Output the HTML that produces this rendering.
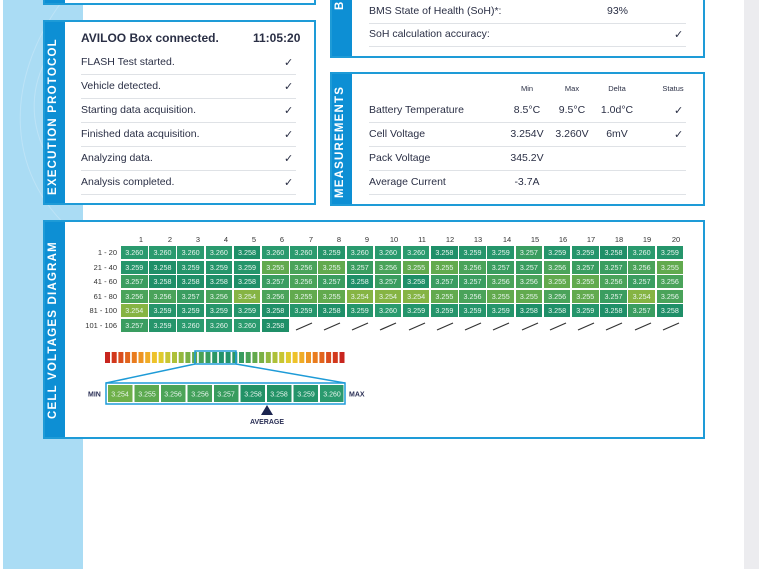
<!DOCTYPE html>
<html><head><meta charset="utf-8"><style>
*{margin:0;padding:0;box-sizing:border-box}
body{width:759px;height:569px;overflow:hidden;background:#fff;font-family:"Liberation Sans",sans-serif;color:#2a2f45;position:relative}
.abs{position:absolute}
.panel{position:absolute;border:2px solid #1e9bd7;background:#fff}
.strip{position:absolute;left:0;top:0;bottom:0;width:20px;background:#0d8fd4}
.vl{position:absolute;color:#fff;font-weight:bold;font-size:11.5px;letter-spacing:1.2px;white-space:nowrap;transform:rotate(-90deg);transform-origin:left top}
.row{position:absolute;font-size:10.5px;border-bottom:1.5px solid #dfe2e6;height:22px;line-height:18px}
.ck{position:absolute;font-size:11px}
.v{position:absolute;width:60px;text-align:center;font-size:10.5px}
.g{position:absolute;left:82px;top:246px}
.r{display:flex;height:14.6px;align-items:flex-start}
.r b{font-weight:normal;width:39px;white-space:nowrap;text-align:right;padding-right:4px;font-size:7.5px;line-height:13px;color:#333}
.r i{font-style:normal;width:26.6px;height:13px;margin-right:1.6px;font-size:7.2px;line-height:13px;text-align:center;color:#e8f5ee}
.a{background:#2a9a6e}.b{background:#25956b}.c{background:#1f8f68}.d{background:#3a9d60}.e{background:#4aa35a}.f{background:#62aa4e}.h{background:#86b443}
.hd{position:absolute;top:235px;font-size:7.5px;color:#333;width:20px;text-align:center}
</style></head><body>
<div class="abs" style="left:3px;top:0;width:80px;height:569px;background:#aadcf4"></div>
<svg class="abs" style="left:3px;top:0" width="80" height="260"><g fill="none" stroke="#bde3f6" stroke-width="1"><path d="M80 20 C20 60 10 140 80 200"/><path d="M80 40 C35 80 30 130 80 180"/><path d="M60 0 C0 80 0 180 80 240"/></g></svg>
<div class="abs" style="left:744px;top:0;width:15px;height:569px;background:#ececef"></div>

<div class="panel" style="left:43px;top:-20px;width:273px;height:25px"><div class="strip"></div></div>

<div class="panel" style="left:43px;top:20px;width:273px;height:185px"><div class="strip"></div>
<div class="vl" style="left:2px;top:173px">EXECUTION PROTOCOL</div></div>
<div class="abs" style="left:81px;top:31px;font-size:12px;font-weight:bold">AVILOO Box connected.</div>
<div class="abs" style="left:253px;top:31px;font-size:12px;font-weight:bold">11:05:20</div>
<div class="row" style="left:81px;top:53px;width:215px">FLASH Test started.</div>
<div class="row" style="left:81px;top:77px;width:215px">Vehicle detected.</div>
<div class="row" style="left:81px;top:101px;width:215px">Starting data acquisition.</div>
<div class="row" style="left:81px;top:125px;width:215px">Finished data acquisition.</div>
<div class="row" style="left:81px;top:149px;width:215px">Analyzing data.</div>
<div class="row" style="left:81px;top:173px;width:215px">Analysis completed.</div>
<div class="ck" style="left:284px;top:56px">✓</div><div class="ck" style="left:284px;top:80px">✓</div><div class="ck" style="left:284px;top:104px">✓</div><div class="ck" style="left:284px;top:128px">✓</div><div class="ck" style="left:284px;top:152px">✓</div><div class="ck" style="left:284px;top:176px">✓</div>

<div class="panel" style="left:330px;top:-20px;width:375px;height:78px"><div class="strip"></div>
<div class="vl" style="left:2px;top:28px">B</div></div>
<div class="row" style="left:369px;top:2px;width:317px">BMS State of Health (SoH)*:</div>
<div class="abs" style="left:607px;top:5px;font-size:10.5px">93%</div>
<div class="row" style="left:369px;top:25px;width:317px">SoH calculation accuracy:</div>
<div class="ck" style="left:674px;top:28px">✓</div>

<div class="panel" style="left:330px;top:72px;width:375px;height:134px"><div class="strip"></div>
<div class="vl" style="left:2px;top:124px">MEASUREMENTS</div></div>
<div class="abs" style="left:507px;top:84px;width:40px;text-align:center;font-size:7.5px">Min</div>
<div class="abs" style="left:552px;top:84px;width:40px;text-align:center;font-size:7.5px">Max</div>
<div class="abs" style="left:597px;top:84px;width:40px;text-align:center;font-size:7.5px">Delta</div>
<div class="abs" style="left:653px;top:84px;width:40px;text-align:center;font-size:7.5px">Status</div>
<div class="row" style="left:369px;top:101px;width:317px">Battery Temperature</div>
<div class="row" style="left:369px;top:125px;width:317px">Cell Voltage</div>
<div class="row" style="left:369px;top:149px;width:317px">Pack Voltage</div>
<div class="row" style="left:369px;top:173px;width:317px">Average Current</div>
<div class="v" style="left:497px;top:104px">8.5°C</div>
<div class="v" style="left:497px;top:128px">3.254V</div>
<div class="v" style="left:497px;top:152px">345.2V</div>
<div class="v" style="left:497px;top:176px">-3.7A</div>
<div class="v" style="left:542px;top:104px">9.5°C</div>
<div class="v" style="left:542px;top:128px">3.260V</div>
<div class="v" style="left:587px;top:104px">1.0d°C</div>
<div class="v" style="left:587px;top:128px">6mV</div>
<div class="ck" style="left:674px;top:104px">✓</div><div class="ck" style="left:674px;top:128px">✓</div>

<div class="panel" style="left:43px;top:220px;width:662px;height:219px"><div class="strip"></div>
<div class="vl" style="left:2px;top:197px">CELL VOLTAGES DIAGRAM</div></div>
<div class="hd" style="left:131px">1</div><div class="hd" style="left:160px">2</div><div class="hd" style="left:188px">3</div><div class="hd" style="left:216px">4</div><div class="hd" style="left:244px">5</div><div class="hd" style="left:272px">6</div><div class="hd" style="left:301px">7</div><div class="hd" style="left:329px">8</div><div class="hd" style="left:357px">9</div><div class="hd" style="left:384px">10</div><div class="hd" style="left:412px">11</div><div class="hd" style="left:440px">12</div><div class="hd" style="left:468px">13</div><div class="hd" style="left:497px">14</div><div class="hd" style="left:525px">15</div><div class="hd" style="left:553px">16</div><div class="hd" style="left:581px">17</div><div class="hd" style="left:609px">18</div><div class="hd" style="left:637px">19</div><div class="hd" style="left:666px">20</div>
<div class="g">
<div class="r"><b>1 - 20</b><i class="a">3.260</i><i class="a">3.260</i><i class="a">3.260</i><i class="a">3.260</i><i class="c">3.258</i><i class="a">3.260</i><i class="a">3.260</i><i class="b">3.259</i><i class="a">3.260</i><i class="a">3.260</i><i class="a">3.260</i><i class="c">3.258</i><i class="b">3.259</i><i class="b">3.259</i><i class="d">3.257</i><i class="b">3.259</i><i class="b">3.259</i><i class="c">3.258</i><i class="a">3.260</i><i class="b">3.259</i></div>
<div class="r"><b>21 - 40</b><i class="b">3.259</i><i class="c">3.258</i><i class="b">3.259</i><i class="b">3.259</i><i class="b">3.259</i><i class="f">3.255</i><i class="e">3.256</i><i class="f">3.255</i><i class="d">3.257</i><i class="e">3.256</i><i class="f">3.255</i><i class="f">3.255</i><i class="e">3.256</i><i class="d">3.257</i><i class="d">3.257</i><i class="e">3.256</i><i class="d">3.257</i><i class="d">3.257</i><i class="e">3.256</i><i class="f">3.255</i></div>
<div class="r"><b>41 - 60</b><i class="d">3.257</i><i class="c">3.258</i><i class="c">3.258</i><i class="c">3.258</i><i class="c">3.258</i><i class="d">3.257</i><i class="e">3.256</i><i class="d">3.257</i><i class="c">3.258</i><i class="d">3.257</i><i class="c">3.258</i><i class="d">3.257</i><i class="d">3.257</i><i class="e">3.256</i><i class="e">3.256</i><i class="f">3.255</i><i class="f">3.255</i><i class="e">3.256</i><i class="d">3.257</i><i class="e">3.256</i></div>
<div class="r"><b>61 - 80</b><i class="e">3.256</i><i class="e">3.256</i><i class="d">3.257</i><i class="e">3.256</i><i class="h">3.254</i><i class="e">3.256</i><i class="f">3.255</i><i class="f">3.255</i><i class="h">3.254</i><i class="h">3.254</i><i class="h">3.254</i><i class="f">3.255</i><i class="e">3.256</i><i class="f">3.255</i><i class="f">3.255</i><i class="e">3.256</i><i class="f">3.255</i><i class="d">3.257</i><i class="h">3.254</i><i class="e">3.256</i></div>
<div class="r"><b>81 - 100</b><i class="h">3.254</i><i class="b">3.259</i><i class="b">3.259</i><i class="b">3.259</i><i class="b">3.259</i><i class="c">3.258</i><i class="b">3.259</i><i class="c">3.258</i><i class="b">3.259</i><i class="a">3.260</i><i class="b">3.259</i><i class="b">3.259</i><i class="b">3.259</i><i class="b">3.259</i><i class="c">3.258</i><i class="c">3.258</i><i class="b">3.259</i><i class="c">3.258</i><i class="d">3.257</i><i class="c">3.258</i></div>
<div class="r"><b>101 - 106</b><i class="d">3.257</i><i class="b">3.259</i><i class="a">3.260</i><i class="a">3.260</i><i class="a">3.260</i><i class="c">3.258</i></div>
</div>
<svg class="abs" style="left:290px;top:318px" width="400" height="16"><g stroke="#333" stroke-width="1.2">
<line x1="6" y1="12" x2="22" y2="5"/><line x1="34" y1="12" x2="50" y2="5"/><line x1="62" y1="12" x2="78" y2="5"/><line x1="90" y1="12" x2="106" y2="5"/><line x1="119" y1="12" x2="135" y2="5"/><line x1="147" y1="12" x2="163" y2="5"/><line x1="175" y1="12" x2="191" y2="5"/><line x1="203" y1="12" x2="219" y2="5"/><line x1="232" y1="12" x2="248" y2="5"/><line x1="260" y1="12" x2="276" y2="5"/><line x1="288" y1="12" x2="304" y2="5"/><line x1="316" y1="12" x2="332" y2="5"/><line x1="345" y1="12" x2="361" y2="5"/><line x1="373" y1="12" x2="389" y2="5"/></g></svg>

<svg class="abs" style="left:80px;top:345px" width="300" height="85">
<g>
<rect x="25" y="7" width="5" height="11" fill="#c8251e"/><rect x="31.7" y="7" width="5" height="11" fill="#d2381c"/><rect x="38.4" y="7" width="5" height="11" fill="#da4d1c"/><rect x="45.1" y="7" width="5" height="11" fill="#e2641c"/><rect x="51.8" y="7" width="5" height="11" fill="#e97c1e"/><rect x="58.5" y="7" width="5" height="11" fill="#ee9422"/><rect x="65.2" y="7" width="5" height="11" fill="#f0ac26"/><rect x="71.9" y="7" width="5" height="11" fill="#eec22a"/><rect x="78.6" y="7" width="5" height="11" fill="#e0cb2c"/><rect x="85.3" y="7" width="5" height="11" fill="#c8c632"/><rect x="92" y="7" width="5" height="11" fill="#aec038"/><rect x="98.7" y="7" width="5" height="11" fill="#94b83e"/><rect x="105.4" y="7" width="5" height="11" fill="#7bb044"/><rect x="112.1" y="7" width="5" height="11" fill="#62a94c"/><rect x="118.8" y="7" width="5" height="11" fill="#4aa256"/><rect x="125.5" y="7" width="5" height="11" fill="#389c5e"/><rect x="132.2" y="7" width="5" height="11" fill="#2a9766"/><rect x="138.9" y="7" width="5" height="11" fill="#22936a"/><rect x="145.6" y="7" width="5" height="11" fill="#22936a"/><rect x="152.3" y="7" width="5" height="11" fill="#2a9766"/><rect x="159" y="7" width="5" height="11" fill="#389c5e"/><rect x="165.7" y="7" width="5" height="11" fill="#4aa256"/><rect x="172.4" y="7" width="5" height="11" fill="#62a94c"/><rect x="179.1" y="7" width="5" height="11" fill="#7bb044"/><rect x="185.8" y="7" width="5" height="11" fill="#94b83e"/><rect x="192.5" y="7" width="5" height="11" fill="#aec038"/><rect x="199.2" y="7" width="5" height="11" fill="#c8c632"/><rect x="205.9" y="7" width="5" height="11" fill="#e0cb2c"/><rect x="212.6" y="7" width="5" height="11" fill="#eec22a"/><rect x="219.3" y="7" width="5" height="11" fill="#f0ac26"/><rect x="226" y="7" width="5" height="11" fill="#ee9422"/><rect x="232.7" y="7" width="5" height="11" fill="#e97c1e"/><rect x="239.4" y="7" width="5" height="11" fill="#e2641c"/><rect x="246.1" y="7" width="5" height="11" fill="#da4d1c"/><rect x="252.8" y="7" width="5" height="11" fill="#d2381c"/><rect x="259.5" y="7" width="5" height="11" fill="#c8251e"/>
</g>
<g fill="none" stroke="#1e9bd7" stroke-width="1.5">
<rect x="115" y="6" width="41" height="13"/>
<line x1="115" y1="19" x2="26" y2="38"/><line x1="156" y1="19" x2="265" y2="38"/>
<rect x="26" y="38" width="239" height="21"/>
</g>
<g font-size="7" fill="#e8f5ee" text-anchor="middle" font-family="Liberation Sans, sans-serif">
<rect x="28" y="40" width="24.5" height="17" fill="#6fb04a"/><text x="40" y="51.5">3.254</text>
<rect x="54.5" y="40" width="24.5" height="17" fill="#5ca94f"/><text x="67" y="51.5">3.255</text>
<rect x="81" y="40" width="24.5" height="17" fill="#4ba457"/><text x="93" y="51.5">3.256</text>
<rect x="107.5" y="40" width="24.5" height="17" fill="#43a05a"/><text x="120" y="51.5">3.256</text>
<rect x="134" y="40" width="24.5" height="17" fill="#389c5e"/><text x="146" y="51.5">3.257</text>
<rect x="160.5" y="40" width="24.5" height="17" fill="#229266"/><text x="173" y="51.5">3.258</text>
<rect x="187" y="40" width="24.5" height="17" fill="#229266"/><text x="199" y="51.5">3.258</text>
<rect x="213.5" y="40" width="24.5" height="17" fill="#25956b"/><text x="226" y="51.5">3.259</text>
<rect x="240" y="40" width="23.5" height="17" fill="#2a9a6e"/><text x="252" y="51.5">3.260</text>
</g>
<g font-size="7" font-weight="bold" fill="#2a2f55" font-family="Liberation Sans, sans-serif">
<text x="8" y="51.5">MIN</text><text x="269" y="51.5">MAX</text>
<polygon points="187,60 181,70 193,70" fill="#1c2550"/>
<text x="187" y="79" text-anchor="middle">AVERAGE</text></g>
</svg>
</body></html>
